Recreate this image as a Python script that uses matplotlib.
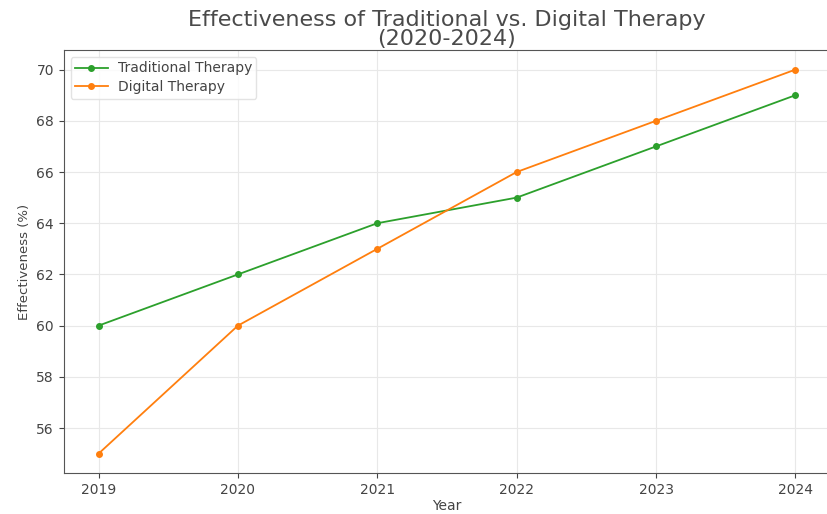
import matplotlib.pyplot as plt

years = [2019, 2020, 2021, 2022, 2023, 2024]
traditional = [60, 62, 64, 65, 67, 69]
digital = [55, 60, 63, 66, 68, 70]

text_color = '#444444'
plt.rcParams['text.color'] = text_color
plt.rcParams['axes.labelcolor'] = text_color
plt.rcParams['xtick.color'] = text_color
plt.rcParams['ytick.color'] = text_color

fig = plt.figure(figsize=(8.27, 5.14), dpi=100)
ax = fig.add_axes([0.077, 0.08, 0.927, 0.822])

ax.plot(years, traditional, marker='o', markersize=4, linewidth=1.3,
        color='#2ca02c', label='Traditional Therapy')
ax.plot(years, digital, marker='o', markersize=4, linewidth=1.3,
        color='#ff7f0e', label='Digital Therapy')

ax.set_title('Effectiveness of Traditional vs. Digital Therapy\n(2020-2024)',
             fontsize=16, linespacing=0.92, pad=4, color='#4a4a4a')
ax.set_xlabel('Year', fontsize=10, labelpad=2)
ax.set_ylabel('Effectiveness (%)', fontsize=9.5)
ax.set_xticks(years)
ax.tick_params(labelsize=10)
ax.grid(True, color='#e8e8e8', linewidth=0.8)
for s in ax.spines.values():
    s.set_color('#555555')
ax.legend(loc='upper left', fontsize=10, frameon=True, edgecolor='#dddddd',
          handlelength=2.4, handletextpad=0.7, borderpad=0.3,
          labelspacing=0.35)

fig.savefig('out.png', dpi=100)
